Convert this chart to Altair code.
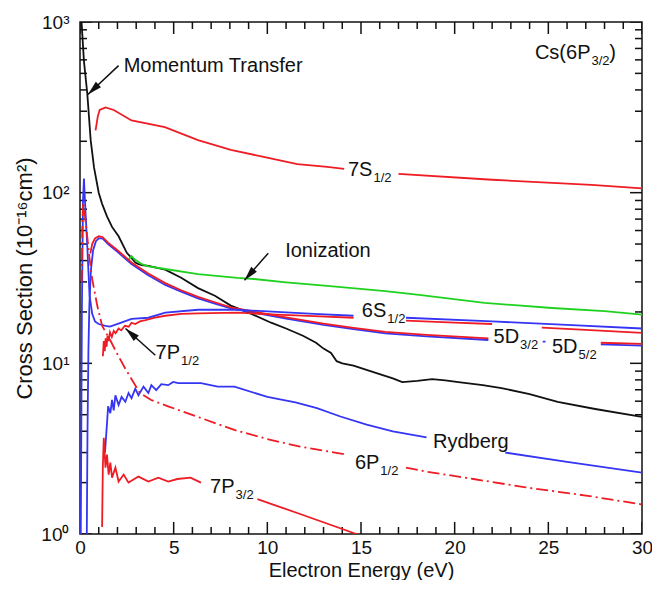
import math
import altair as alt

W, H = 562, 512
FONT = "Liberation Sans, Arial, Helvetica, sans-serif"
INK = "#111111"
RED = "#ee1c24"
BLUE = "#3535f5"
GREEN = "#1fd21f"

# ---------------- data: electron energy (eV) / cross section (1e-16 cm^2); None = gap for a label
mt_E = [0.05, 0.09, 0.21, 0.39, 0.57, 0.75, 1.0, 1.18, 1.44, 1.71, 2.06, 2.5, 2.75, 2.95, 3.1, 3.3, 3.65, 4.0, 4.55, 5.4,
        6.3, 7.2, 8.05, 9.0, 10.2, 11.0, 11.9, 12.6, 13.0, 13.4, 13.7, 14.0, 14.6, 15.5, 16.2, 16.7, 17.2, 18.0, 18.8, 19.5,
        20.2, 21.5, 22.5, 24.0, 25.5, 27.5, 30.0]
mt_S = [1200, 970, 590, 380, 203, 140, 100, 86, 72.6, 63, 55.5, 44.4, 41.5, 39.0, 38.3, 37.6, 37.2, 36.5, 35.4, 31.7,
        27.6, 24.9, 21.8, 19.8, 17.3, 16.0, 14.5, 13.2, 12.2, 11.5, 10.3, 10.0, 9.7, 9.0, 8.5, 8.17, 7.77, 7.9, 8.07, 7.95,
        7.77, 7.45, 7.16, 6.6, 5.94, 5.4, 4.85]

io_E = [2.6, 2.75, 2.9, 3.3, 3.65, 4.55, 6.3, 8.4, 9.3, 11.0, 13.2, 16.3, 18.1, 21.6, 25.2, 28.0, 30.0]
io_S = [40.5, 42.5, 40.8, 38.1, 37.0, 35.7, 33.3, 31.7, 31.2, 29.8, 28.4, 26.5, 25.2, 22.6, 21.1, 20.2, 19.3]

s7_E = [0.83, 0.95, 1.05, 1.36, 1.8, 2.75, 4.53, 6.3, 8.05, 9.8, 11.6, 13.2, 14.1, 15.5, 17.0, 22.0, 27.3, 30.0]
s7_S = [232, 280, 305, 316, 305, 265, 242, 203, 178, 162, 147, 141.6, 138, None, 129, 119, 111, 106]

s6_E = [0.04, 0.1, 0.16, 0.21, 0.3, 0.39, 0.51, 0.65, 0.8, 1.0, 1.36, 1.6, 2.2, 2.75, 3.65, 4.55, 6.3, 8.4, 10.5, 12.5,
        14.6, 16.0, 17.4, 22.0, 26.0, 30.0]
s6_S = [0.9, 20, 90, 121, 75, 48, 25, 19.5, 17.6, 17.0, 16.6, 16.4, 17.3, 18.2, 18.5, 19.8, 20.6, 20.6, 20.0, 19.5,
        19.0, None, 18.5, 17.6, 16.8, 16.0]

p71_E = [1.22, 1.27, 1.32, 1.37, 1.42, 1.47, 1.53, 1.6, 1.7, 1.8, 1.9, 2.06, 2.2, 2.4, 2.6, 2.75, 2.95, 3.2, 3.5, 4.0,
         4.55, 5.4, 6.3, 8.4, 10.5, 12.5, 14.6, 16.0, 17.4, 20.0, 22.0, 23.3, 24.65, 27.0, 30.0]
p71_S = [11.0, 13.5, 11.8, 14.0, 12.5, 14.5, 13.5, 15.2, 14.3, 15.5, 15.0, 16.0, 15.6, 16.6, 16.4, 17.3, 17.0, 17.6, 17.9, 18.5,
         19.0, 19.5, 19.6, 19.8, 19.3, 18.9, 18.5, None, 17.8, 17.3, 17.0, None, 16.2, 15.7, 15.1]

d5_E = [0.36, 0.4, 0.45, 0.5, 0.58, 0.7, 0.85, 1.0, 1.2, 1.5, 2.0, 2.75, 3.6, 4.55, 5.4, 6.3, 7.2, 8.05, 9.5, 11.0,
        13.0, 14.5, 16.3, 18.5, 21.8, 23.0, 24.7, 24.85, 26.0, 27.8, 30.0]
d5_S = [0.9, 4, 12, 22, 35, 46, 52, 54, 54, 50, 45, 38.2, 33, 28.8, 26.3, 24, 22.4, 21.0, 19.6, 18.3,
        16.8, 15.9, 15.0, 14.4, 13.7, None, 13.4, 13.4, None, 12.9, 12.7]

d3_E = [0.55, 0.65, 0.8, 1.0, 1.2, 1.5, 2.0, 2.75, 3.6, 4.55, 5.4, 6.3, 7.2, 8.05, 9.5, 11.0, 13.0, 14.5, 16.3, 18.5,
        21.8, 24.0, 27.8, 30.0]
d3_S = [44, 50, 54, 55.5, 55, 51, 46, 39, 33.8, 29.5, 26.8, 24.5, 22.8, 21.3, 19.9, 18.6, 17.1, 16.2, 15.3, 14.7,
        14.0, None, 13.2, 13.0]

ry_E = [1.33, 1.36, 1.45, 1.50, 1.62, 1.71, 1.80, 1.89, 2.06, 2.22, 2.42, 2.59, 2.75, 2.95, 3.12, 3.39, 3.65, 3.81, 4.07, 4.34,
        4.71, 4.97, 5.24, 6.46, 7.35, 8.24, 10.0, 11.5, 12.65, 13.9, 15.3, 16.7, 18.5, 20.5, 22.7, 26.0, 30.0]
ry_S = [3.0, 3.3, 4.6, 5.6, 5.1, 6.1, 5.3, 6.5, 5.7, 6.36, 5.96, 6.7, 6.25, 7.1, 6.5, 7.3, 6.7, 7.45, 6.96, 7.55,
        7.45, 7.78, 7.65, 7.65, 7.3, 7.3, 6.36, 5.9, 5.47, 4.88, 4.37, 3.99, 3.68, None, 3.0, 2.65, 2.29]

p61_E = [0.09, 0.13, 0.17, 0.25, 0.37, 0.5, 0.65, 0.92, 1.18, 1.62, 2.0, 2.42, 3.2, 3.8, 4.7, 6.3, 8.24, 10.0, 11.75, 14.2,
         15.8, 17.4, 18.5, 21.0, 23.8, 27.0, 30.0]
p61_S = [30, 70, 88, 75, 57.6, 42, 31.2, 21.8, 16.6, 13.6, 11.3, 9.3, 6.7, 6.1, 5.6, 4.85, 4.07, 3.6, 3.25, 2.92,
         None, 2.45, 2.32, 2.1, 1.875, 1.68, 1.49]

p73_E = [1.18, 1.22, 1.27, 1.36, 1.44, 1.53, 1.62, 1.71, 1.89, 2.06, 2.33, 2.59, 3.12, 3.65, 4.18, 4.71, 5.2, 5.9, 6.46, 8.0,
         9.47, 11.75, 14.76, 16.0]
p73_S = [1.1, 2.5, 3.66, 2.45, 2.92, 2.23, 2.62, 2.14, 2.45, 2.03, 2.23, 2.0, 2.17, 2.03, 2.14, 2.03, 2.1, 2.14, 2.0, None,
         1.6, 1.31, 1.0, 0.9]

# labels with subscripts (main text ends / subscript starts at the anchor)
sub_main = ["7S", "6S", "5D", "5D", "6P", "7P", "7P", "Cs(6P"]
sub_sub = ["1/2", "1/2", "3/2", "5/2", "1/2", "3/2", "1/2", "3/2"]
sub_E = [15.61, 16.35, 23.44, 26.56, 15.98, 8.25, 5.34, 27.25]
sub_S = [136.1, 20.3, 14.17, 12.39, 2.62, 1.877, 11.43, 660]

plain_text = ["Momentum Transfer", "Ionization", "Rydberg", ")"]
plain_E = [2.33, 10.95, 18.84, 28.25]
plain_S = [555, 45.4, 3.47, 660]

arr_tail_E = [2.06, 10.05, 4.02]
arr_tail_S = [555, 44.2, 11.15]
arr_head_E = [0.42, 8.78, 2.43]
arr_head_S = [376, 30.7, 16.0]

x_major = [0, 5, 10, 15, 20, 25, 30]
x_minor = [v for v in range(0, 31) if v % 5 != 0]
y_major = [1, 10, 100, 1000]
y_minor = [m * d for d in (1, 10, 100) for m in range(2, 10)]

# ---------------- scales / helpers
xs = alt.Scale(domain=[0, 30], nice=False, zero=False)
ys = alt.Scale(type="log", domain=[1, 1000], nice=False)


def recs(**cols):
    keys = list(cols)
    return [dict(zip(keys, vals)) for vals in zip(*cols.values())]


lab_x = alt.Axis(orient="bottom", values=x_major, ticks=False, tickSize=0, domain=False, grid=False,
                 labelFont=FONT, labelFontSize=19, labelColor=INK, labelPadding=4, labelFlush=False,
                 labelOverlap=False, title="Electron Energy (eV)", titleFont=FONT, titleFontSize=20,
                 titleFontWeight="normal", titleColor=INK, titleX=W / 2, titleY=42, titleAlign="center",
                 titleBaseline="alphabetic")
lab_y = alt.Axis(orient="left", values=y_major, ticks=False, tickSize=0, domain=False, grid=False,
                 labelExpr="'10' + (datum.value < 5 ? '⁰' : datum.value < 50 ? '¹' : datum.value < 500 ? '²' : '³')",
                 labelFont=FONT, labelFontSize=19, labelColor=INK, labelPadding=11, labelFlush=False,
                 labelOverlap=False, title="Cross Section (10⁻¹⁶cm²)", titleFont=FONT, titleFontSize=22,
                 titleFontWeight="normal", titleColor=INK, titleX=-56, titleY=H / 2, titleAngle=270,
                 titleAlign="center", titleBaseline="middle")

layers = [
    alt.Chart(alt.Data(values=[{"E": 0, "S": 1}])).mark_point(opacity=0).encode(
        x=alt.X("E:Q", scale=xs, axis=lab_x),
        y=alt.Y("S:Q", scale=ys, axis=lab_y),
    )
]

X = alt.X("E:Q", scale=xs, axis=None)
Y = alt.Y("S:Q", scale=ys, axis=None)


# inward ticks on all four sides (tick centred on the frame, outer half clipped away)
def x_ticks(values, length, edge):
    return alt.Chart(alt.Data(values=[{"E": v} for v in values])).mark_tick(
        orient="vertical", size=2 * length, thickness=1.5, color=INK, opacity=1, clip=True).encode(
        x=X, y=alt.value(edge))


def y_ticks(values, length, edge):
    return alt.Chart(alt.Data(values=[{"S": v} for v in values])).mark_tick(
        orient="horizontal", size=2 * length, thickness=1.5, color=INK, opacity=1, clip=True).encode(
        y=Y, x=alt.value(edge))


for edge in (0, H):
    layers.append(x_ticks(x_major, 12, edge))
    layers.append(x_ticks(x_minor, 7, edge))
for edge in (0, W):
    layers.append(y_ticks(y_major, 12, edge))
    layers.append(y_ticks(y_minor, 7, edge))

series = [
    (s7_E, s7_S, RED, None),
    (mt_E, mt_S, INK, None),
    (io_E, io_S, GREEN, None),
    (d5_E, d5_S, BLUE, None),
    (d3_E, d3_S, RED, None),
    (s6_E, s6_S, BLUE, None),
    (p71_E, p71_S, RED, None),
    (ry_E, ry_S, BLUE, None),
    (p61_E, p61_S, RED, [12, 4, 2, 4]),
    (p73_E, p73_S, RED, None),
]
for E, S, col, dash in series:
    kw = dict(color=col, strokeWidth=1.8, clip=True, invalid="break-paths-show-domains")
    if dash:
        kw["strokeDash"] = dash
    layers.append(alt.Chart(alt.Data(values=recs(E=E, S=S))).mark_line(**kw).encode(x=X, y=Y))


# arrows
def px(e):
    return e / 30 * W


def py(s):
    return H * (1 - math.log10(s) / 3)


arrow_rows = recs(E=arr_tail_E, S=arr_tail_S, E2=arr_head_E, S2=arr_head_S)
layers.append(alt.Chart(alt.Data(values=arrow_rows)).mark_rule(color=INK, strokeWidth=1.5).encode(
    x=X, y=Y, x2="E2:Q", y2="S2:Q"))
for te, ts, he, hs in zip(arr_tail_E, arr_tail_S, arr_head_E, arr_head_S):
    dx = px(he) - px(te)
    dy = py(hs) - py(ts)
    ang = math.degrees(math.atan2(dx, -dy)) % 360
    layers.append(alt.Chart(alt.Data(values=[{"E": he, "S": hs}])).mark_point(
        shape="M0,0L0.75,2.9L-0.75,2.9Z", size=100, filled=True, color=INK, opacity=1, angle=ang,
        strokeWidth=0).encode(x=X, y=Y))

# labels
sub_rows = recs(E=sub_E, S=sub_S, m=sub_main, s=sub_sub)
layers.append(alt.Chart(alt.Data(values=sub_rows)).mark_text(
    align="right", baseline="middle", font=FONT, fontSize=20, color=INK).encode(x=X, y=Y, text="m:N"))
layers.append(alt.Chart(alt.Data(values=sub_rows)).mark_text(
    align="left", baseline="middle", font=FONT, fontSize=13, color=INK, dx=1, dy=8).encode(x=X, y=Y, text="s:N"))
layers.append(alt.Chart(alt.Data(values=recs(E=plain_E, S=plain_S, t=plain_text))).mark_text(
    align="left", baseline="middle", font=FONT, fontSize=20, color=INK).encode(x=X, y=Y, text="t:N"))

chart = alt.layer(*layers).resolve_axis(x="independent", y="independent").properties(
    width=W, height=H,
    padding={"left": 72, "top": 14, "right": 10, "bottom": 46},
    autosize=alt.AutoSizeParams(type="none"),
).configure_view(stroke=INK, strokeWidth=1.5)

chart.save("out.html", embed_options={"renderer": "svg", "actions": False})
